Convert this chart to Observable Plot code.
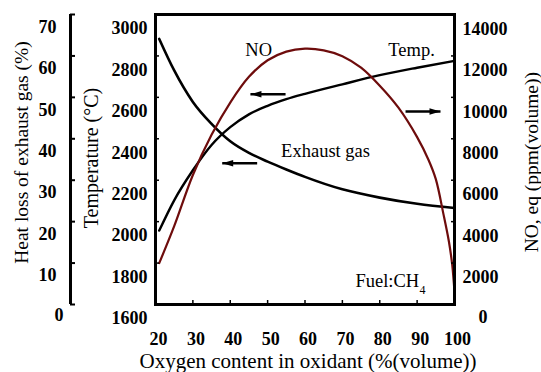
<!DOCTYPE html>
<html><head><meta charset="utf-8">
<script src="https://cdn.jsdelivr.net/npm/d3@7"></script>
<script src="https://cdn.jsdelivr.net/npm/@observablehq/plot@0.6"></script>
<style>body{margin:0;background:#fff}</style>
</head><body><div id="chart"></div>
<script>
// ---- data ----
const tempO2 = [21, 25, 30, 35, 40, 45, 50, 55, 60, 70, 80, 90, 100];
const tempC  = [1957, 2103, 2248, 2370, 2456, 2518, 2559, 2591, 2617, 2663, 2707, 2743, 2776];

const noO2  = [21, 25, 30, 35, 40, 45, 50, 55, 60, 65, 70, 75, 80, 85, 90, 93, 95, 97, 98.5, 99.4, 100];
const noPpm = [2000, 3780, 6250, 8190, 9750, 10990, 11790, 12210, 12350, 12270, 11990, 11430, 10560, 9500, 8080, 7000, 6050, 4400, 3040, 1900, 600];

const hlO2  = [21, 25, 30, 35, 40, 45, 50, 55, 60, 70, 80, 90, 100];
const hlPct = [64.1, 56.5, 48.9, 43.6, 39.4, 36.6, 34.5, 32.6, 30.8, 27.8, 25.8, 24.3, 23.3];

const xTicks    = [20, 30, 40, 50, 60, 70, 80, 90, 100];
const tempTicks = [1600, 1800, 2000, 2200, 2400, 2600, 2800, 3000];
const heatTicks = [0, 10, 20, 30, 40, 50, 60, 70];
const noTicks   = [0, 2000, 4000, 6000, 8000, 10000, 12000, 14000];

const xTitle    = "Oxygen content in oxidant (%(volume))";
const tempTitle = "Temperature (°C)";
const heatTitle = "Heat loss of exhaust gas (%)";
const noTitle   = "NO, eq (ppm(volume))";

const curveLabels = [
  {x: 47.6, y: 2830, text: "NO"},
  {x: 88.5, y: 2830, text: "Temp."},
  {x: 65.5, y: 2339, text: "Exhaust gas"}
];
const fuelLabel = {x: 73.5, y: 1711, text: "Fuel:CH", sub: "4"};

// arrows (tail -> head) in axes coordinates (x: O2 %, y: temperature space)
const arrows = [
  {x1: 54.8, x2: 45.4, y: 2615, dir: "left"},
  {x1: 47.2, x2: 37.85, y: 2282, dir: "left"},
  {x1: 86.9, x2: 96.25, y: 2532, dir: "right"}
];

// ---- secondary axes are mapped into the temperature scale ----
const T0 = 1600, T1 = 3000;
const noToT = v => T0 + v * (T1 - T0) / 14000;
const hlToT = v => T0 + v * (T1 - T0) / 70;
const tToNo = t => String(Math.round((t - T0) * 14000 / (T1 - T0)));
const tToHl = t => String(Math.round((t - T0) * 70 / (T1 - T0)));
const plain = v => String(v);

const tempData = tempO2.map((o, i) => ({o2: o, v: tempC[i]}));
const noData   = noO2.map((o, i) => ({o2: o, v: noToT(noPpm[i])}));
const hlData   = hlO2.map((o, i) => ({o2: o, v: hlToT(hlPct[i])}));

const headRight = {draw(ctx) { ctx.moveTo(0, 0); ctx.lineTo(-11, -3.2); ctx.lineTo(-11, 3.2); ctx.closePath(); }};
const headLeft  = {draw(ctx) { ctx.moveTo(0, 0); ctx.lineTo(11, -3.2); ctx.lineTo(11, 3.2); ctx.closePath(); }};

const font = "'Liberation Serif', 'Times New Roman', Times, serif";
const tickFont = {fontWeight: "bold", fontSize: 18};
const titleOpts = {text: d => d, textAnchor: "middle", lineAnchor: "middle"};

const chart = Plot.plot({
  width: 541, height: 372,
  marginLeft: 155, marginRight: 87, marginTop: 14, marginBottom: 68,
  style: {fontFamily: font, fontSize: "19px", color: "#000", background: "#fff", overflow: "visible"},
  x: {domain: [20, 100], label: null},
  y: {domain: [T0, T1], label: null},
  marks: [
    Plot.line(hlData,   {x: "o2", y: "v", stroke: "#000", strokeWidth: 2.6, curve: "monotone-x"}),
    Plot.line(tempData, {x: "o2", y: "v", stroke: "#000", strokeWidth: 2.4, curve: "monotone-x"}),
    Plot.line(noData,   {x: "o2", y: "v", stroke: "#6e0c0c", strokeWidth: 2.2, curve: "catmull-rom"}),
    Plot.frame({stroke: "#000", strokeWidth: 3}),

    // x axis
    Plot.axisX(xTicks.slice(1, -1), {tickSize: -4, fill: "none", strokeWidth: 1.5, label: null}),
    Plot.axisX(xTicks, {tickSize: 0, tickPadding: 28, dx: 3, tickFormat: plain, label: null, ...tickFont}),

    // temperature axis (inner left)
    Plot.axisY(tempTicks.slice(1, -1), {anchor: "left", tickSize: -4, fill: "none", strokeWidth: 1.5, label: null}),
    Plot.axisY(tempTicks, {anchor: "left", tickSize: 0, tickPadding: 8, dy: 14, tickFormat: plain, label: null, ...tickFont}),

    // heat-loss axis (outer left bracket)
    Plot.ruleX([20], {y1: T0, y2: T1, dx: -85, stroke: "#000", strokeWidth: 3}),
    Plot.axisY(heatTicks.map(hlToT), {anchor: "left", dx: -85, tickSize: -5, fill: "none", strokeWidth: 2, label: null}),
    Plot.axisY(heatTicks.slice(1).map(hlToT), {anchor: "left", dx: -85, tickSize: 0, tickPadding: 14, dy: 12.5, tickFormat: tToHl, label: null, ...tickFont}),
    Plot.axisY(heatTicks.slice(0, 1).map(hlToT), {anchor: "left", dx: -85, tickSize: 0, tickPadding: 7, dy: 11, tickFormat: tToHl, label: null, ...tickFont}),

    // NO axis (right)
    Plot.axisY(noTicks.slice(1, -1).map(noToT), {anchor: "right", tickSize: -4, fill: "none", strokeWidth: 1.5, label: null}),
    Plot.axisY(noTicks.slice(1).map(noToT), {anchor: "right", tickSize: 0, tickPadding: 8, dy: 14.5, tickFormat: tToNo, label: null, ...tickFont}),
    Plot.axisY(noTicks.slice(0, 1).map(noToT), {anchor: "right", tickSize: 0, tickPadding: 24, dy: 13, tickFormat: tToNo, label: null, ...tickFont}),

    // axis titles
    Plot.text([xTitle], {...titleOpts, frameAnchor: "bottom", dx: 3, dy: 57, fontSize: 21}),
    Plot.text([tempTitle], {...titleOpts, frameAnchor: "left", dx: -64, dy: -1.5, rotate: -90, fontSize: 20}),
    Plot.text([heatTitle], {...titleOpts, frameAnchor: "left", dx: -134, dy: -7, rotate: -90, fontSize: 19.5}),
    Plot.text([noTitle], {...titleOpts, frameAnchor: "right", dx: 77.5, dy: 2.7, rotate: -90, fontSize: 19.5}),

    // curve labels
    Plot.text(curveLabels, {x: "x", y: "y", text: "text", fontSize: 18.5}),
    Plot.text([fuelLabel], {x: "x", y: "y", text: "text", textAnchor: "start", fontSize: 18.5}),
    Plot.text([fuelLabel], {x: "x", y: "y", text: "sub", textAnchor: "start", dx: 64, dy: 9, fontSize: 12}),

    // arrows
    Plot.link(arrows, {x1: "x1", x2: "x2", y1: "y", y2: "y", stroke: "#000", strokeWidth: 2.4}),
    Plot.dot(arrows.filter(a => a.dir === "left"), {x: "x2", y: "y", symbol: headLeft, fill: "#000", stroke: "none", r: 4}),
    Plot.dot(arrows.filter(a => a.dir === "right"), {x: "x2", y: "y", symbol: headRight, fill: "#000", stroke: "none", r: 4})
  ]
});
document.getElementById("chart").appendChild(chart);
</script>
</body></html>
